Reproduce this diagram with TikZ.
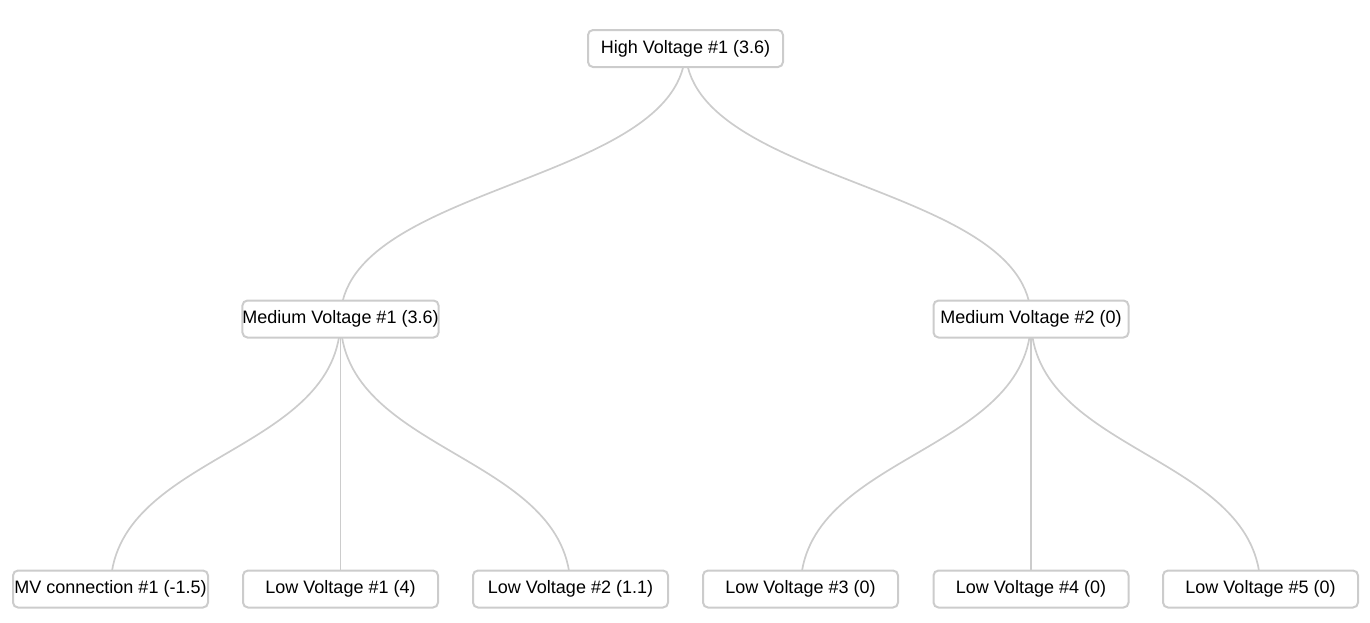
\documentclass[tikz,border=0pt]{standalone}
\usepackage{fontspec}
\setmainfont{Liberation Sans}
\usetikzlibrary{backgrounds}

\definecolor{edgegray}{RGB}{204,204,204}

\tikzset{
  unit/.style={draw=edgegray, line width=1pt, fill=white, rounded corners=2.5pt,
    minimum width=97.5pt, minimum height=18.5pt, inner sep=0pt, font=\fontsize{9}{10.8}\selectfont},
  link/.style={draw=edgegray, line width=0.85pt}
}

\begin{document}
\begin{tikzpicture}[x=0.5pt, y=-0.5pt]
            \useasboundingbox (0,0) rectangle (1370,622);
            \node[unit] (hv1) at (685.5,48.5) {High Voltage \#1 (3.6)};
            \node[unit] (mv1) at (340.5,319) {Medium Voltage \#1 (3.6)};
            \node[unit] (mv2) at (1031,319) {Medium Voltage \#2 (0)};
            \node[unit] (mvc1) at (110.5,589) {MV connection \#1 (-1.5)};
            \node[unit] (lv1) at (340.5,589) {Low Voltage \#1 (4)};
            \node[unit] (lv2) at (570.5,589) {Low Voltage \#2 (1.1)};
            \node[unit] (lv3) at (800.5,589) {Low Voltage \#3 (0)};
            \node[unit] (lv4) at (1031,589) {Low Voltage \#4 (0)};
            \node[unit] (lv5) at (1260.5,589) {Low Voltage \#5 (0)};
            \begin{scope}[on background layer]
            \draw[link] (hv1.center) .. controls +(0,135.5) and +(0,-135.5) .. (mv1.center);
            \draw[link] (hv1.center) .. controls +(0,135.5) and +(0,-135.5) .. (mv2.center);
            \draw[link] (mv1.center) .. controls +(0,135) and +(0,-135) .. (mvc1.center);
            \draw[link] (mv1.center) .. controls +(0,135) and +(0,-135) .. (lv1.center);
            \draw[link] (mv1.center) .. controls +(0,135) and +(0,-135) .. (lv2.center);
            \draw[link] (mv2.center) .. controls +(0,135) and +(0,-135) .. (lv3.center);
            \draw[link] (mv2.center) .. controls +(0,135) and +(0,-135) .. (lv4.center);
            \draw[link] (mv2.center) .. controls +(0,135) and +(0,-135) .. (lv5.center);
            \end{scope}
        \end{tikzpicture}
\end{document}
